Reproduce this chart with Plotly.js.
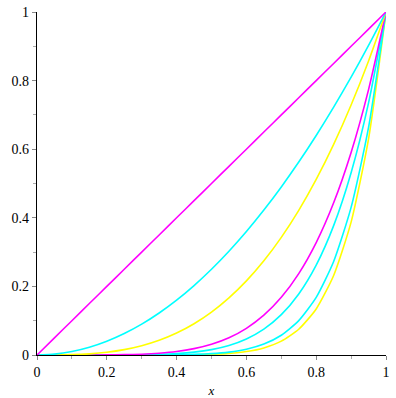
<!DOCTYPE html>
<html>
<head>
<meta charset="utf-8">
<script src="https://cdn.plot.ly/plotly-3.0.1.min.js"></script>
<style>html,body{margin:0;padding:0;background:#fff;}#chart{width:396px;height:398px;}</style>
</head>
<body>
<div id="chart"></div>
<script>
var xs = [0,0.05,0.1,0.15,0.2,0.25,0.3,0.35,0.4,0.45,0.5,0.55,0.6,0.65,0.7,0.75,0.8,0.85,0.9,0.95,1];
var yLinear = [0,0.05,0.1,0.15,0.2,0.25,0.3,0.35,0.4,0.45,0.5,0.55,0.6,0.65,0.7,0.75,0.8,0.85,0.9,0.95,1];
var ySquare = [0,0.0025,0.01,0.0225,0.04,0.0625,0.09,0.1225,0.16,0.2025,0.25,0.3025,0.36,0.4225,0.49,0.5625,0.64,0.7225,0.81,0.9025,1];
var yCube = [0,0.0001,0.001,0.0034,0.008,0.0156,0.027,0.0429,0.064,0.0911,0.125,0.1664,0.216,0.2746,0.343,0.4219,0.512,0.6141,0.729,0.8574,1];
var yFifth = [0,0,0,0.0001,0.0003,0.001,0.0024,0.0053,0.0102,0.0185,0.0313,0.0503,0.0778,0.116,0.1681,0.2373,0.3277,0.4437,0.5905,0.7738,1];
var ySixth = [0,0,0,0,0.0001,0.0002,0.0007,0.0018,0.0041,0.0083,0.0156,0.0277,0.0467,0.0754,0.1176,0.178,0.2621,0.3771,0.5314,0.7351,1];
var yEighth = [0,0,0,0,0,0,0.0001,0.0002,0.0007,0.0017,0.0039,0.0084,0.0168,0.0319,0.0576,0.1001,0.1678,0.2725,0.4305,0.6634,1];
var yNinth = [0,0,0,0,0,0,0,0.0001,0.0003,0.0008,0.002,0.0046,0.0101,0.0207,0.0404,0.0751,0.1342,0.2316,0.3874,0.6302,1];

var series = [
  {y: yNinth, c: '#FFFF00'},
  {y: yEighth, c: '#00FFFF'},
  {y: ySixth, c: '#00FFFF'},
  {y: yFifth, c: '#FF00FF'},
  {y: yCube, c: '#FFFF00'},
  {y: ySquare, c: '#00FFFF'},
  {y: yLinear, c: '#FF00FF'}
];
var traces = series.map(function(s){
  return {x: xs, y: s.y, type: 'scatter', mode: 'lines',
          line: {color: s.c, width: 1.6, shape: 'spline', smoothing: 0.6},
          hoverinfo: 'skip', showlegend: false};
});

var serif = 'Liberation Serif';
var tickFont = {family: serif, size: 14, color: '#000'};
var layout = {
  width: 396, height: 398,
  margin: {l: 37, r: 10, t: 12, b: 43},
  paper_bgcolor: '#fff', plot_bgcolor: '#fff',
  font: {family: serif, size: 14, color: '#000'},
  showlegend: false,
  xaxis: {
    range: [0, 1], tick0: 0, dtick: 0.2, showgrid: false, zeroline: false,
    showline: true, linecolor: '#000', linewidth: 1.3,
    ticks: 'outside', ticklen: 4, tickcolor: '#888', tickwidth: 1,
    minor: {dtick: 0.1, ticks: 'outside', ticklen: 3, tickcolor: '#aaa', tickwidth: 1, showgrid: false},
    tickfont: tickFont,
    title: {text: '<i>x</i>', font: {family: serif, size: 13, color: '#000'}, standoff: 8}
  },
  yaxis: {
    range: [0, 1], tick0: 0, dtick: 0.2, showgrid: false, zeroline: false,
    showline: true, linecolor: '#000', linewidth: 1.3,
    ticks: 'outside', ticklen: 4, tickcolor: '#888', tickwidth: 1,
    minor: {dtick: 0.1, ticks: 'outside', ticklen: 3, tickcolor: '#aaa', tickwidth: 1, showgrid: false},
    tickfont: tickFont
  }
};
Plotly.newPlot('chart', traces, layout, {displayModeBar: false, staticPlot: true});
</script>
</body>
</html>
